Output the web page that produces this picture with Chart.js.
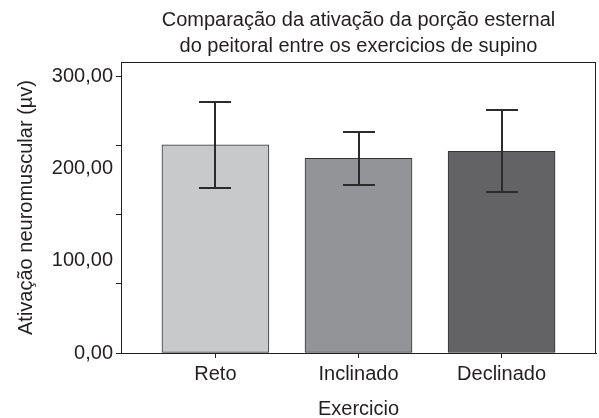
<!DOCTYPE html>
<html>
<head>
<meta charset="utf-8">
<script src="https://cdn.jsdelivr.net/npm/chart.js@4.4.1/dist/chart.umd.min.js"></script>
<style>
  html, body { margin: 0; padding: 0; background: #fff; }
  #wrap { width: 599px; height: 418px; position: relative; }
</style>
</head>
<body>
<div id="wrap"><canvas id="c"></canvas></div>
<script>
// Exercises compared and mean EMG activation with its standard deviation
const categories = ['Reto', 'Inclinado', 'Declinado'];
const means = [226, 211.5, 219];
const sds = [47, 29, 44.5];
const barColors = ['#c8c9cb', '#939498', '#636365'];

// Y axis: labelled values and values carrying a tick mark
const yLabelValues = [0, 100, 200, 300];
const yMarkValues = [0, 75, 150, 225, 300];

const titleLines = ['Comparação da ativação da porção esternal', 'do peitoral entre os exercicios de supino'];
const xTitle = 'Exercicio';
const yTitle = 'Ativação neuromuscular (µv)';

const FONT = "'Liberation Sans', Arial, Helvetica, sans-serif";
const INK = '#231f20';

const fmt = v => v.toFixed(2).replace('.', ',');

// Frame around the plotting area plus the mean ± SD whiskers
const frameAndErrors = {
  id: 'frameAndErrors',
  afterDatasetsDraw(chart) {
    const { ctx, chartArea: a, scales: { x, y } } = chart;
    ctx.save();
    ctx.strokeStyle = INK;
    ctx.lineWidth = 1;
    ctx.strokeRect(a.left + 0.5, a.top + 0.5, a.right - a.left - 1, a.bottom - a.top);
    ctx.lineWidth = 2;
    ctx.strokeStyle = '#2b2b2b';
    means.forEach((m, i) => {
      const cx = Math.round(x.getPixelForValue(i));
      const yt = Math.round(y.getPixelForValue(m + sds[i]));
      const yb = Math.round(y.getPixelForValue(m - sds[i]));
      const half = 16;
      ctx.beginPath();
      ctx.moveTo(cx, yt); ctx.lineTo(cx, yb);
      ctx.moveTo(cx - half, yt); ctx.lineTo(cx + half, yt);
      ctx.moveTo(cx - half, yb); ctx.lineTo(cx + half, yb);
      ctx.stroke();
    });
    ctx.restore();
  }
};

new Chart(document.getElementById('c'), {
  type: 'bar',
  data: {
    datasets: [{
      data: means.map((m, i) => ({ x: i, y: m })),
      backgroundColor: barColors,
      borderColor: '#333333',
      borderWidth: 1,
      borderSkipped: false,
      barThickness: 107
    }]
  },
  options: {
    responsive: true,
    maintainAspectRatio: false,
    animation: false,
    layout: { padding: { left: 4, right: 3, top: 0, bottom: 0 } },
    plugins: {
      legend: { display: false },
      tooltip: { enabled: false },
      title: {
        display: true,
        fullSize: false,
        text: titleLines,
        color: INK,
        font: { family: FONT, size: 20, weight: 'normal', lineHeight: 1.3 },
        padding: { top: 7, bottom: 3 }
      }
    },
    scales: {
      x: {
        type: 'linear',
        offset: false,
        min: -0.66,
        max: 2.66,
        afterBuildTicks(s) { s.ticks = categories.map((_, i) => ({ value: i })); },
        afterFit(s) { s.height = 65; },
        grid: { offset: false, drawOnChartArea: false, drawTicks: true, tickLength: 5, tickColor: INK },
        border: { display: true, color: INK, width: 1 },
        ticks: {
          color: INK,
          padding: 4,
          maxRotation: 0,
          autoSkip: false,
          font: { family: FONT, size: 20 },
          callback: v => categories[v] ?? ''
        },
        title: {
          display: true,
          text: xTitle,
          color: INK,
          font: { family: FONT, size: 20 },
          padding: { top: 0, bottom: -3 }
        }
      },
      y: {
        min: 0,
        max: 316,
        afterBuildTicks(s) {
          const vals = Array.from(new Set([...yMarkValues, ...yLabelValues])).sort((a, b) => a - b);
          s.ticks = vals.map(v => ({ value: v }));
        },
        afterFit(s) { s.width = 117; },
        grid: {
          drawOnChartArea: false,
          drawTicks: true,
          tickLength: 5,
          tickColor: ctx => yMarkValues.includes(ctx.tick.value) ? INK : 'rgba(0,0,0,0)'
        },
        border: { display: true, color: INK, width: 1 },
        ticks: {
          color: INK,
          padding: 3,
          font: { family: FONT, size: 20 },
          callback: v => yLabelValues.includes(v) ? fmt(v) : ''
        },
        title: {
          display: true,
          text: yTitle,
          color: INK,
          font: { family: FONT, size: 20 },
          padding: { top: 10, bottom: 0 }
        }
      }
    }
  },
  plugins: [frameAndErrors]
});
</script>
</body>
</html>
